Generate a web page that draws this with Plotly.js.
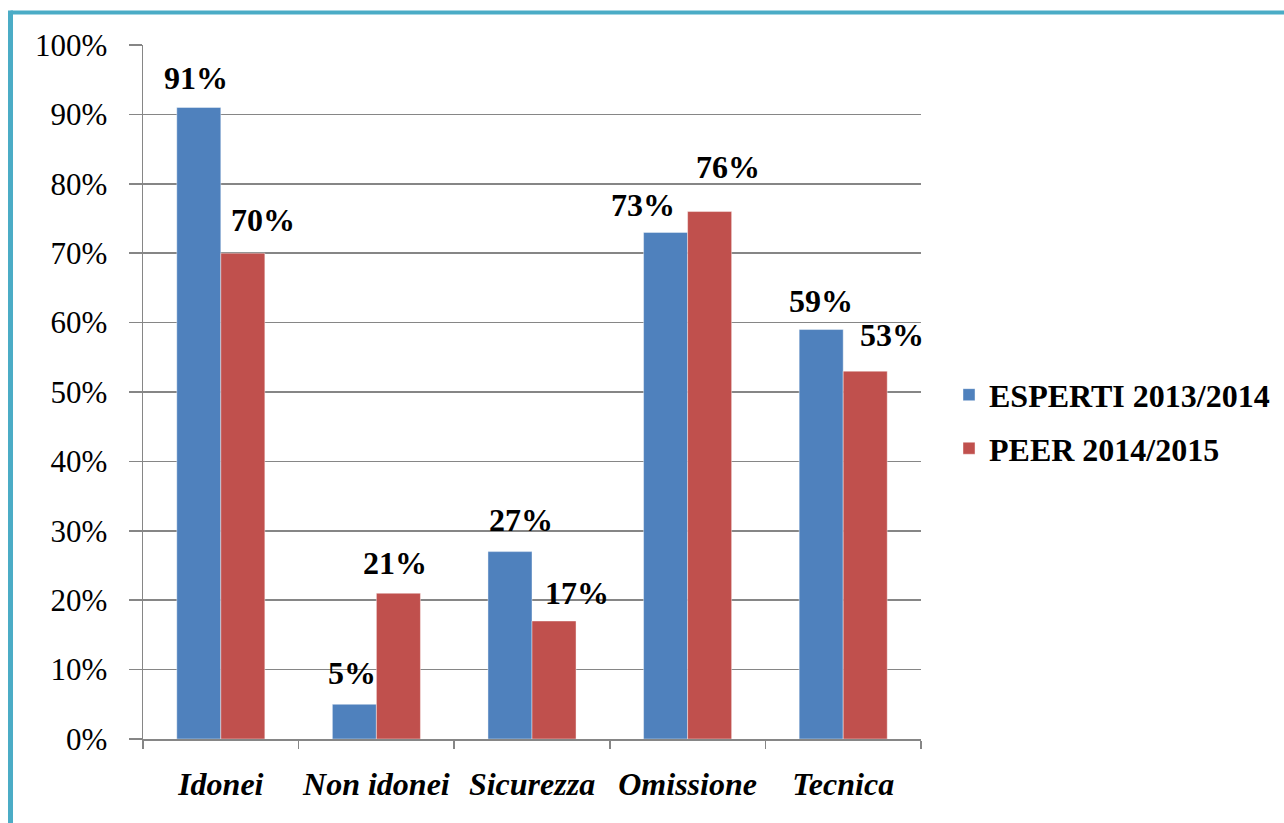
<!DOCTYPE html>
<html>
<head>
<meta charset="utf-8">
<script src="https://cdn.plot.ly/plotly-3.0.1.min.js"></script>
<style>
  html, body { margin: 0; padding: 0; background: #fff; overflow: hidden; }
  #chart { width: 1360px; height: 823px; }
</style>
</head>
<body>
<div id="chart"></div>
<script>
// ---- data ----
const categories = ["Idonei", "Non idonei", "Sicurezza", "Omissione", "Tecnica"];
const seriesNames = ["ESPERTI 2013/2014", "PEER 2014/2015"];
const esperti = [91, 5, 27, 73, 59];
const peer = [70, 21, 17, 76, 53];
const yTicks = [0, 10, 20, 30, 40, 50, 60, 70, 80, 90, 100];

// label placement (pixel offsets of data labels from category centre / bar top)
const labelDx = [[-25, -24, -11, -45, -22], [42, 19, 45, 40, 49]];
const labelDy = [[29, 31, 32, 27, 29], [33, 30, 28, 45, 36]];

const colors = ["#4f81bd", "#c0504d"];
const serif = "Liberation Serif";

const values = [esperti, peer];
const traces = values.map((vals, s) => ({
  type: "bar",
  name: seriesNames[s],
  x: categories,
  y: vals,
  marker: { color: colors[s], line: { width: 0.6, color: "rgba(255,255,255,0.7)" } },
  legendgroup: "g" + s,
  hoverinfo: "x+y"
}));

const annotations = [];
values.forEach((vals, s) => {
  vals.forEach((v, i) => {
    annotations.push({
      x: categories[i], y: v, xref: "x", yref: "y",
      text: v + "%", showarrow: false,
      xanchor: "center", yanchor: "middle",
      xshift: labelDx[s][i], yshift: labelDy[s][i],
      font: { family: serif, size: 32, color: "#000", weight: "bold" }
    });
  });
});

const layout = {
  width: 1360, height: 823,
  margin: { l: 143, r: 439, t: 45, b: 84 },
  paper_bgcolor: "#fff", plot_bgcolor: "#fff",
  barmode: "group", bargap: 0.434, bargroupgap: 0,
  showlegend: true,
  legend: {
    x: 1.036, y: 0.457, xanchor: "left", yanchor: "middle",
    font: { family: serif, size: 32, color: "#000", weight: "bold" },
    traceorder: "grouped", tracegroupgap: 9,
    bgcolor: "rgba(0,0,0,0)"
  },
  xaxis: {
    type: "category",
    range: [-0.5, categories.length - 0.5], autorange: false,
    tickson: "boundaries", ticks: "outside", ticklen: 8, tickwidth: 1.5, tickcolor: "#868686",
    showline: true, linecolor: "#868686", linewidth: 1.5,
    showgrid: false,
    tickangle: 0,
    ticklabelstandoff: 16,
    tickfont: { family: serif, size: 32, color: "#000", weight: "bold", style: "italic" },
    fixedrange: true
  },
  yaxis: {
    range: [0, 100], autorange: false, tickvals: yTicks, ticktext: yTicks.map(t => t + "%"),
    ticks: "outside", ticklen: 13, tickwidth: 1.5, tickcolor: "#868686",
    showline: true, linecolor: "#868686", linewidth: 1.5,
    showgrid: true, gridcolor: "#868686", gridwidth: 1.5,
    zeroline: false,
    ticklabelstandoff: 15,
    tickfont: { family: serif, size: 31, color: "#000" },
    fixedrange: true
  },
  annotations: annotations,
  shapes: [
    { type: "line", xref: "paper", yref: "paper", x0: -0.1703, x1: 1.6, y0: 1.0468, y1: 1.0468,
      line: { color: "#4bacc6", width: 4 } },
    { type: "line", xref: "paper", yref: "paper", x0: -0.1703, x1: -0.1703, y0: 1.0497, y1: -0.2,
      line: { color: "#4bacc6", width: 5 } }
  ]
};

Plotly.newPlot("chart", traces, layout, { displayModeBar: false, staticPlot: true });
</script>
</body>
</html>
